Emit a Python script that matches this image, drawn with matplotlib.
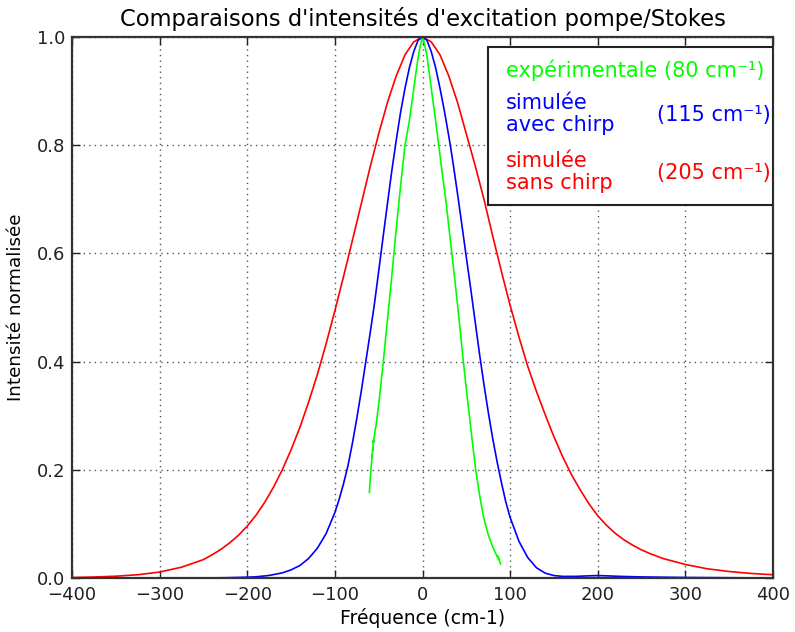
import matplotlib
matplotlib.use("Agg")
import matplotlib.pyplot as plt
from matplotlib.patches import Rectangle

# ---- data ----
green_x = [-60.6, -60.0, -59.3, -58.9, -58.0, -57.4, -57.7, -56.6, -56.9, -55.8, -56.1, -55.0, -54.2, -53.0,
           -49.0, -44.7, -40.5, -36.7, -33.5, -30.0, -25.0, -20.0, -15.0, -11.3, -8.0, -5.0, -2.5, 0.0,
           2.5, 5.0, 8.0, 11.4, 15.0, 18.5, 22.0, 26.5, 30.0, 33.5, 37.0, 40.0, 43.0, 46.6, 50.0, 53.5, 57.0,
           60.7, 65.0, 69.3, 75.0, 80.3, 84.0, 86.0, 85.6, 87.3, 87.0, 88.2, 89.1]
green_y = [0.158, 0.175, 0.19, 0.20, 0.215, 0.228, 0.224, 0.24, 0.236, 0.255, 0.25, 0.262, 0.272, 0.282,
           0.335, 0.40, 0.47, 0.53, 0.585, 0.645, 0.725, 0.80, 0.845, 0.888, 0.928, 0.962, 0.985, 1.0,
           0.985, 0.965, 0.93, 0.888, 0.845, 0.80, 0.755, 0.70, 0.65, 0.60, 0.55, 0.505, 0.458, 0.40, 0.35,
           0.30, 0.25, 0.20, 0.155, 0.115, 0.08, 0.057, 0.044, 0.038, 0.041, 0.034, 0.037, 0.030, 0.026]

blue_x = [-400, -300, -250, -225, -200, -190, -175, -160, -150, -140, -130, -120, -110, -100, -95, -90, -85,
          -80, -75, -70, -65, -60, -55, -50, -45, -40, -35, -30, -25, -20, -15, -10, -5, 0,
          5, 10, 15, 20, 25, 30, 35, 40, 45, 50, 55, 60, 65, 70, 75, 80, 85, 90, 95, 100, 110, 120, 130,
          140, 150, 160, 175, 190, 200, 210, 225, 250, 300, 350, 400]
blue_y = [0.0, 0.0, 0.0001, 0.0005, 0.0015, 0.0022, 0.0047, 0.0095, 0.015, 0.023, 0.036, 0.055, 0.082, 0.121,
          0.146, 0.175, 0.208, 0.249, 0.295, 0.344, 0.397, 0.450, 0.505, 0.567, 0.630, 0.692, 0.753, 0.809,
          0.861, 0.905, 0.943, 0.973, 0.994, 1.0,
          0.994, 0.973, 0.943, 0.905, 0.863, 0.817, 0.766, 0.710, 0.652, 0.593, 0.535, 0.475, 0.415, 0.359,
          0.307, 0.259, 0.216, 0.177, 0.141, 0.112, 0.068, 0.038, 0.019, 0.009, 0.0045, 0.003, 0.003, 0.004,
          0.0045, 0.004, 0.003, 0.002, 0.001, 0.0005, 0.0]

red_x = [-400, -375, -350, -325, -300, -275, -250, -240, -230, -220, -210, -200, -190, -180, -170, -160, -150,
         -140, -130, -120, -110, -100, -90, -80, -70, -60, -50, -40, -30, -20, -10, 0,
         10, 20, 30, 40, 50, 60, 70, 80, 90, 100, 110, 120, 130, 140, 150, 160, 170, 180, 190, 200, 210, 220,
         230, 240, 250, 260, 275, 300, 325, 350, 375, 400]
red_y = [0.0009, 0.0018, 0.0033, 0.006, 0.011, 0.020, 0.034, 0.043, 0.053, 0.065, 0.079, 0.096, 0.116, 0.140,
         0.168, 0.200, 0.237, 0.278, 0.325, 0.376, 0.433, 0.494, 0.558, 0.624, 0.691, 0.758, 0.821, 0.879,
         0.928, 0.967, 0.991, 1.0,
         0.991, 0.967, 0.928, 0.879, 0.821, 0.763, 0.701, 0.633, 0.567, 0.504, 0.446, 0.392, 0.345, 0.302,
         0.261, 0.224, 0.191, 0.163, 0.137, 0.115, 0.0975, 0.0825, 0.0705, 0.0605, 0.052, 0.0448, 0.0358,
         0.025, 0.017, 0.012, 0.0084, 0.006]

x_ticks = [-400, -300, -200, -100, 0, 100, 200, 300, 400]
y_ticks = [0.0, 0.2, 0.4, 0.6, 0.8, 1.0]

title = "Comparaisons d'intensités d'excitation pompe/Stokes"
xlabel = "Fréquence (cm-1)"
ylabel = "Intensité normalisée"

# ---- figure ----
plt.rcParams['font.family'] = ['DejaVu Sans']
fig = plt.figure(figsize=(7.95, 6.32), dpi=100)
ax = fig.add_axes([72 / 795, 1 - 578 / 632, 701 / 795, 541 / 632])

ax.plot(red_x, red_y, color=(1, 0, 0), lw=1.2, solid_joinstyle='round')
ax.plot(blue_x, blue_y, color=(0, 0, 1), lw=1.2, solid_joinstyle='round')
ax.plot(green_x, green_y, color=(0, 1, 0), lw=1.2, solid_joinstyle='round')

ax.set_xlim(-400, 400)
ax.set_ylim(0, 1.0)
ax.set_xticks(x_ticks)
ax.set_yticks(y_ticks)
ax.set_yticklabels([f"{v:.1f}" for v in y_ticks])
ax.tick_params(direction='in', top=True, right=True, length=6, width=1, labelsize=13, colors='#222222')
ax.tick_params(axis='x', pad=6)
ax.tick_params(axis='y', pad=5)
ax.grid(True, color='#555555', linestyle=(0, (1, 3)), linewidth=1)
for s in ax.spines.values():
    s.set_linewidth(1.6)
    s.set_color('#333333')

ax.set_title(title, fontsize=16.3, pad=8)
ax.set_xlabel(xlabel, fontsize=13.5, labelpad=3)
ax.set_ylabel(ylabel, fontsize=13.2, labelpad=8)

# legend-like box
bx0, by0 = (488 - 72) / 701, (578 - 205) / 541
ax.add_patch(Rectangle((bx0, by0), 1.0 - bx0, (578 - 47) / 541 - by0, transform=ax.transAxes,
                       facecolor='white', edgecolor='#222222', lw=1.5, zorder=5))

def ypos(py):
    return (578 - py) / 541

lx = (506 - 72) / 701
rx = (771 - 72) / 701
fs = 15
ax.text(lx, ypos(70), "expérimentale (80 cm\u207b\u00b9)", color=(0, 1, 0), fontsize=fs,
        transform=ax.transAxes, ha='left', va='center', zorder=6)
ax.text(lx, ypos(114), "simulée\navec chirp", color=(0, 0, 1), fontsize=fs, linespacing=1.15,
        transform=ax.transAxes, ha='left', va='center', zorder=6)
ax.text(rx, ypos(115), "(115 cm\u207b\u00b9)", color=(0, 0, 1), fontsize=fs,
        transform=ax.transAxes, ha='right', va='center', zorder=6)
ax.text(lx, ypos(172), "simulée\nsans chirp", color=(1, 0, 0), fontsize=fs, linespacing=1.15,
        transform=ax.transAxes, ha='left', va='center', zorder=6)
ax.text(rx, ypos(173), "(205 cm\u207b\u00b9)", color=(1, 0, 0), fontsize=fs,
        transform=ax.transAxes, ha='right', va='center', zorder=6)

fig.savefig("out.png", dpi=100)
